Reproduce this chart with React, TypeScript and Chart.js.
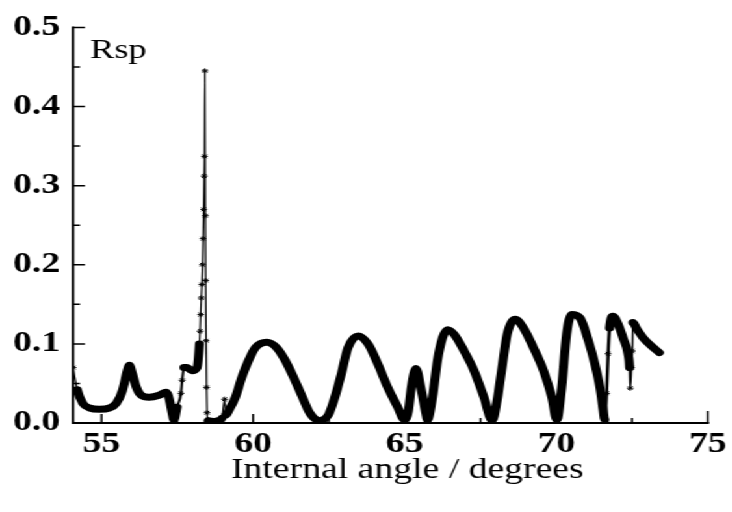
import React, { useEffect, useRef } from 'react';
import { Chart, registerables } from 'chart.js';

Chart.register(...registerables);

// ---- data ----
const angles = [
  54.06, 54.20, 54.38, 54.61, 54.93, 55.26, 55.49, 55.69, 55.85, 55.92,
  56.02, 56.15, 56.31, 56.57, 56.90, 57.13, 57.23, 57.33, 57.39, 57.49,
  57.62, 57.66, 57.72, 57.82, 57.98, 58.15, 58.23, 58.25, 58.27, 58.29,
  58.31, 58.33, 58.35, 58.37, 58.385, 58.395, 58.41, 58.425, 58.435, 58.45,
  58.465, 58.48, 58.52, 58.70, 58.87, 58.97, 59.06, 59.10, 59.20, 59.42,
  59.63, 59.85, 60.07, 60.45, 60.78, 61.06, 61.33, 61.60, 61.88, 62.20,
  62.48, 62.70, 62.91, 63.13, 63.46, 63.79, 64.11, 64.44, 64.77, 64.99,
  65.12, 65.22, 65.37, 65.53, 65.70, 65.75, 65.92, 66.08, 66.25, 66.41,
  66.63, 66.96, 67.29, 67.61, 67.89, 68.05, 68.21, 68.38, 68.65, 68.92,
  69.25, 69.58, 69.85, 70.02, 70.18, 70.34, 70.51, 70.78, 71.06, 71.27,
  71.44, 71.55, 71.60, 71.66, 71.71, 71.76, 71.87, 72.04, 72.20, 72.37,
  72.42, 72.44, 72.48, 72.51, 72.53, 72.64, 72.86, 73.13, 73.40,
];
const rsp = [
  0.070, 0.042, 0.025, 0.019, 0.0175, 0.019, 0.025, 0.041, 0.066, 0.073,
  0.062, 0.045, 0.035, 0.0325, 0.035, 0.039, 0.031, 0.0125, 0.004, 0.020,
  0.0375, 0.054, 0.070, 0.070, 0.066, 0.070, 0.100, 0.116, 0.137, 0.158,
  0.175, 0.200, 0.233, 0.270, 0.312, 0.337, 0.445, 0.262, 0.180, 0.104,
  0.045, 0.013, 0.003, 0.002, 0.003, 0.006, 0.030, 0.010, 0.016, 0.033,
  0.058, 0.079, 0.095, 0.102, 0.095, 0.079, 0.058, 0.035, 0.012, 0.003,
  0.010, 0.033, 0.062, 0.095, 0.110, 0.100, 0.075, 0.045, 0.020, 0.004,
  0.015, 0.045, 0.069, 0.045, 0.012, 0.004, 0.033, 0.079, 0.108, 0.118,
  0.112, 0.091, 0.066, 0.033, 0.003, 0.029, 0.070, 0.112, 0.131, 0.120,
  0.095, 0.066, 0.033, 0.004, 0.045, 0.112, 0.137, 0.133, 0.104, 0.075,
  0.045, 0.016, 0.004, 0.0375, 0.0875, 0.120, 0.135, 0.125, 0.108, 0.087,
  0.070, 0.044, 0.070, 0.091, 0.127, 0.120, 0.108, 0.0975, 0.089,
];
const xTickValues = [55, 60, 65, 70, 75];
const yTickValues = [0.0, 0.1, 0.2, 0.3, 0.4, 0.5];
const xMin = 54.06;
const seriesLabel = 'Rsp';
const axisTitle = 'Internal angle / degrees';

// ---- style / layout ----
const S = 1.3; // horizontal stretch of the reference
const W = Math.round(732 / S);
const H = 512;
const FONT = '"Liberation Serif", "Times New Roman", Times, serif';

// x-ranges where the trace is drawn thin with markers
const thinZones: [number, number, number][] = [
  [54.0, 54.21, 1.2],
  [57.45, 57.73, 2],
  [58.16, 58.53, 1.2],
  [58.96, 59.11, 1.2],
  [71.57, 71.77, 2.5],
  [72.41, 72.54, 1.5],
];
function zoneWidth(x0: number, x1: number): number {
  for (const [a, b, w] of thinZones) if (x0 >= a && x1 <= b) return w;
  return 7;
}
function inZone(x: number): boolean {
  for (const [a, b] of thinZones) if (x >= a && x <= b) return true;
  return false;
}

const axesPlugin = {
  id: 'axesFrame',
  afterDatasetsDraw(chart: any) {
    const { ctx, chartArea, scales } = chart;
    const x = scales.x;
    const y = scales.y;
    const left = chartArea.left;
    const bottom = chartArea.bottom;
    const yTop = y.getPixelForValue(yTickValues[yTickValues.length - 1]);
    const xEnd = x.getPixelForValue(xTickValues[xTickValues.length - 1]);
    ctx.save();
    ctx.strokeStyle = '#000';
    ctx.lineCap = 'butt';
    ctx.lineWidth = 2;
    ctx.beginPath();
    ctx.moveTo(left, yTop - 1);
    ctx.lineTo(left, bottom);
    ctx.lineTo(xEnd + 1, bottom);
    ctx.stroke();

    ctx.lineWidth = 1.5;
    ctx.beginPath();
    yTickValues.forEach((v, i) => {
      const py = y.getPixelForValue(v);
      ctx.moveTo(left, py);
      ctx.lineTo(left + 9.2, py);
      if (i < yTickValues.length - 1) {
        const pm = y.getPixelForValue((v + yTickValues[i + 1]) / 2);
        ctx.moveTo(left, pm);
        ctx.lineTo(left + 5.4, pm);
      }
    });
    xTickValues.forEach((v, i) => {
      const px = x.getPixelForValue(v);
      ctx.moveTo(px, bottom);
      ctx.lineTo(px, bottom - (i === xTickValues.length - 1 ? 12 : 9));
      if (i < xTickValues.length - 1) {
        const pm = x.getPixelForValue((v + xTickValues[i + 1]) / 2);
        ctx.moveTo(pm, bottom);
        ctx.lineTo(pm, bottom - 5);
      }
    });
    ctx.stroke();

    ctx.fillStyle = '#000';
    ctx.textAlign = 'left';
    ctx.textBaseline = 'alphabetic';
    ctx.font = `28px ${FONT}`;
    ctx.fillText(seriesLabel, 90 / S, 58);
    ctx.font = `29px ${FONT}`;
    ctx.textAlign = 'center';
    ctx.fillText(axisTitle, (chartArea.left + chartArea.right) / 2 + 13, 478);
    ctx.restore();
  },
};

export default function App() {
  const ref = useRef<HTMLCanvasElement>(null);
  useEffect(() => {
    const canvas = ref.current;
    if (!canvas) return;
    const points = angles.map((a, i) => ({ x: a, y: rsp[i] }));
    const chart = new Chart(canvas, {
      type: 'line',
      data: {
        datasets: [
          {
            label: seriesLabel,
            data: points,
            borderColor: '#000',
            backgroundColor: '#000',
            borderWidth: 7,
            borderJoinStyle: 'round',
            borderCapStyle: 'round',
            cubicInterpolationMode: 'monotone',
            fill: false,
            pointStyle: 'star',
            pointBorderColor: '#000',
            pointBorderWidth: 1,
            pointRadius: (c: any) => (c.raw && inZone(c.raw.x) ? 2.6 : 0),
            segment: {
              borderWidth: (c: any) => zoneWidth(c.p0.parsed.x, c.p1.parsed.x),
            },
          } as any,
        ],
      },
      options: {
        animation: false,
        responsive: false,
        events: [],
        layout: { padding: { left: 0, top: 23, right: W - 712.5 / S, bottom: 0 } },
        plugins: { legend: { display: false }, tooltip: { enabled: false }, title: { display: false } },
        scales: {
          x: {
            type: 'linear',
            min: xMin,
            max: xTickValues[xTickValues.length - 1],
            afterBuildTicks: (s: any) => {
              s.ticks = xTickValues.map((v) => ({ value: v }));
            },
            afterFit: (s: any) => {
              s.height = 89;
            },
            ticks: {
              includeBounds: false,
              autoSkip: false,
              maxRotation: 0,
              padding: 4,
              color: '#000',
              font: { family: FONT, size: 29, weight: 'bold' },
              callback: (v: any) => String(v),
            },
            grid: { display: false, drawTicks: false },
            border: { display: false },
          },
          y: {
            type: 'linear',
            min: 0,
            max: yTickValues[yTickValues.length - 1],
            afterBuildTicks: (s: any) => {
              s.ticks = yTickValues.map((v) => ({ value: v }));
            },
            afterFit: (s: any) => {
              s.width = 73 / S;
            },
            ticks: {
              autoSkip: false,
              padding: 10,
              color: '#000',
              font: { family: FONT, size: 29, weight: 'bold' },
              callback: (v: any) => Number(v).toFixed(1),
            },
            grid: { display: false, drawTicks: false },
            border: { display: false },
          },
        },
      } as any,
      plugins: [axesPlugin],
    });
    return () => chart.destroy();
  }, []);
  return (
    <div
      style={{
        position: 'fixed',
        left: 0,
        top: 0,
        width: W,
        height: H,
        transform: `scaleX(${S})`,
        transformOrigin: '0 0',
        background: '#fff',
      }}
    >
      <canvas ref={ref} width={W} height={H} style={{ display: 'block' }} />
    </div>
  );
}
